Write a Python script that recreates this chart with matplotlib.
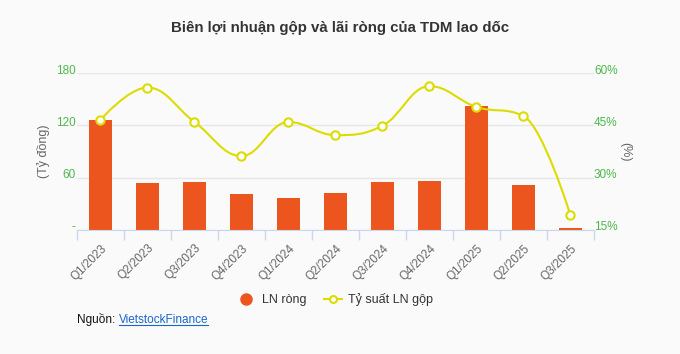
import numpy as np
import matplotlib.pyplot as plt
from matplotlib.path import Path
from matplotlib.patches import PathPatch
from matplotlib.lines import Line2D
import matplotlib.transforms as mtransforms

plt.rcParams['font.family'] = ['Liberation Sans', 'DejaVu Sans']

# Dữ liệu
quarters = ['Q1/2023', 'Q2/2023', 'Q3/2023', 'Q4/2023', 'Q1/2024', 'Q2/2024',
            'Q3/2024', 'Q4/2024', 'Q1/2025', 'Q2/2025', 'Q3/2025']
ln_rong = [126, 54, 55, 41, 36.5, 42.5, 55, 56, 142, 51.5, 2]          # tỷ đồng
ty_suat_gop = [46.6, 55.9, 46.0, 36.2, 46.0, 42.2, 44.9, 56.3, 50.3, 47.7, 19.2]  # %

bar_color = '#ec561e'
line_color = '#dcdc00'
label_green = '#4cb84c'
bg = '#fafafa'


def spline_path(xs, ys, smoothing=1.5):
    # duong cong kieu Highcharts spline qua cac diem
    n = len(xs)
    denom = smoothing + 1
    right = [None] * n
    left = [None] * n
    for i in range(1, n - 1):
        px, py = xs[i], ys[i]
        lx, ly = xs[i - 1], ys[i - 1]
        nx, ny = xs[i + 1], ys[i + 1]
        lcx = (smoothing * px + lx) / denom
        lcy = (smoothing * py + ly) / denom
        rcx = (smoothing * px + nx) / denom
        rcy = (smoothing * py + ny) / denom
        corr = (rcy - lcy) * (rcx - px) / (rcx - lcx) + py - rcy
        lcy += corr
        rcy += corr
        if lcy > ly and lcy > py:
            lcy = max(ly, py); rcy = 2 * py - lcy
        elif lcy < ly and lcy < py:
            lcy = min(ly, py); rcy = 2 * py - lcy
        if rcy > ny and rcy > py:
            rcy = max(ny, py); lcy = 2 * py - rcy
        elif rcy < ny and rcy < py:
            rcy = min(ny, py); lcy = 2 * py - rcy
        left[i] = (lcx, lcy)
        right[i] = (rcx, rcy)
    verts = [(xs[0], ys[0])]
    codes = [Path.MOVETO]
    for i in range(1, n):
        c1 = right[i - 1] or (xs[i - 1], ys[i - 1])
        c2 = left[i] or (xs[i], ys[i])
        verts += [c1, c2, (xs[i], ys[i])]
        codes += [Path.CURVE4] * 3
    return Path(verts, codes)


fig = plt.figure(figsize=(6.8, 3.54), dpi=100, facecolor=bg)
ax = fig.add_axes([0.1132, 0.351, 0.7603, 0.442])
ax.set_facecolor(bg)
x = np.arange(len(quarters))

ax.bar(x, ln_rong, width=0.47, color=bar_color, zorder=2)
ax.set_xlim(-0.5, len(quarters) - 0.5)
ax.set_ylim(0, 180)
ax.set_yticks([0, 60, 120, 180])
ax.set_yticklabels(['-', '60', '120', '180'])
ax.grid(axis='y', color='#e6e6e6', linewidth=1, zorder=0)
ax.set_axisbelow(True)
ax.tick_params(axis='y', length=0, pad=1, labelsize=8.5, labelcolor=label_green)

ax.set_xticks(x)
ax.set_xticklabels(quarters, rotation=45, ha='right', rotation_mode='anchor',
                   fontsize=8.5, color='#666666')
ax.set_xticks(np.arange(-0.5, len(quarters)), minor=True)
ax.tick_params(axis='x', which='major', length=0, pad=9)
ax.tick_params(axis='x', which='minor', length=7, width=1, color='#ccd6eb')
for s in ['left', 'right', 'top']:
    ax.spines[s].set_visible(False)
ax.spines['bottom'].set_color('#ccd6eb')
ax.set_ylabel('(Tỷ đồng)', fontsize=9, color='#666666', labelpad=4)

ax2 = ax.twinx()
ax2.set_ylim(15, 60)
ax2.set_yticks([15, 30, 45, 60])
ax2.set_yticklabels([f'{v}%' for v in [15, 30, 45, 60]])
ax2.tick_params(axis='y', length=0, pad=0, labelsize=8.5, labelcolor=label_green)
for s in ax2.spines.values():
    s.set_visible(False)
ax2.set_ylabel('(%)', fontsize=9, color='#666666', rotation=270, labelpad=10)

ax2.add_patch(PathPatch(spline_path(list(x), ty_suat_gop), fill=False,
                        edgecolor=line_color, linewidth=1.5, zorder=3))
ax2.plot(x, ty_suat_gop, linestyle='none', marker='o', markersize=6,
         markerfacecolor='white', markeredgecolor=line_color,
         markeredgewidth=1.5, zorder=4)

# nhan truc y hoi nhich len tren duong luoi
off = mtransforms.ScaledTranslation(0, 3 / 72, fig.dpi_scale_trans)
for lab in ax.get_yticklabels() + ax2.get_yticklabels():
    lab.set_transform(lab.get_transform() + off)

fig.text(0.5, 1 - 28 / 354, 'Biên lợi nhuận gộp và lãi ròng của TDM lao dốc',
         ha='center', va='center', fontsize=10.8, fontweight='bold', color='#333333')

handles = [
    Line2D([], [], linestyle='none', marker='o', markersize=8, color=bar_color),
    Line2D([], [], color=line_color, linewidth=1.5, marker='o', markersize=5,
           markerfacecolor='white', markeredgecolor=line_color, markeredgewidth=1.5),
]
fig.legend(handles, ['LN ròng', 'Tỷ suất LN gộp'], loc='center',
           bbox_to_anchor=(0.5 - 5 / 680, 1 - 300 / 354), ncol=2, frameon=False,
           fontsize=9, handlelength=1.5, columnspacing=1.4, handletextpad=0.5,
           labelcolor='#333333')

t1 = fig.text(77 / 680, 1 - 320 / 354, 'Nguồn: ', fontsize=8.5, color='#111111',
              va='center', ha='left')
fig.canvas.draw()
bb = t1.get_window_extent()
x2 = bb.x1 / fig.bbox.width
t2 = fig.text(x2, 1 - 320 / 354, 'VietstockFinance', fontsize=8.5,
              color='#1a66cc', va='center', ha='left')
fig.canvas.draw()
bb2 = t2.get_window_extent()
uy = (bb2.y0 + 1.5) / fig.bbox.height
fig.add_artist(Line2D([bb2.x0 / fig.bbox.width, bb2.x1 / fig.bbox.width], [uy, uy],
                      transform=fig.transFigure, color='#1a66cc', linewidth=0.8))

fig.savefig('out.png', dpi=100, facecolor=bg)
